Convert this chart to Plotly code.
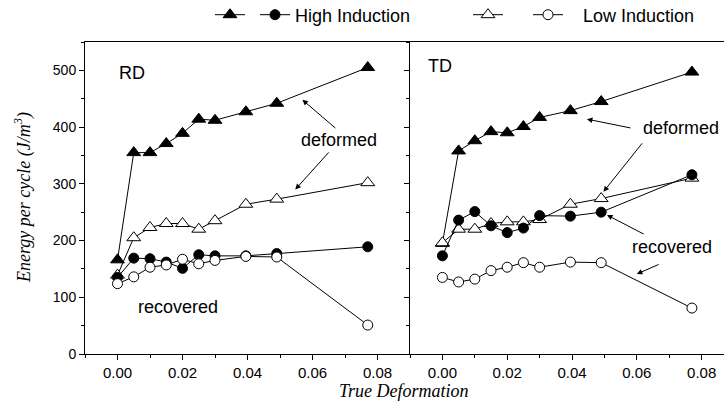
import plotly.graph_objects as go

# ---- data ----
strain = [0, 0.005, 0.01, 0.015, 0.02, 0.025, 0.03, 0.0395, 0.049, 0.077]

rd_high_def = [166, 355, 355, 371, 389, 414, 412, 427, 442, 505]
rd_high_rec = [135, 169, 168, 162, 151, 175, 173, 173, 177, 189]
rd_low_def = [139, 205, 223, 230, 230, 220, 235, 264, 273, 302]
rd_low_rec = [124, 136, 153, 157, 167, 159, 165, 172, 171, 51]

td_high_def = [195, 358, 376, 392, 390, 401, 417, 429, 445, 497]
td_high_rec = [173, 236, 251, 226, 214, 222, 244, 243, 250, 316]
td_low_def = [196, 220, 220, 230, 233, 233, 237, 264, 274, 310]
td_low_rec = [135, 127, 132, 147, 153, 161, 153, 162, 161, 81]

y_ticks = [0, 100, 200, 300, 400, 500]
x_ticks = [0.00, 0.02, 0.04, 0.06, 0.08]

FONT = "Liberation Sans, Arial, sans-serif"
SERIF = "Liberation Serif, Times New Roman, serif"
NB = "\u00a0"

fig = go.Figure()

styles = {
    "hd": dict(symbol="triangle-up", color="black", size=12),
    "ld": dict(symbol="triangle-up", color="white", size=12),
    "hr": dict(symbol="circle", color="black", size=10),
    "lr": dict(symbol="circle", color="white", size=10),
}
legend_info = {
    "hd": ("", 1, 0),
    "hr": ("High Induction", 2, 168),
    "ld": ("", 3, 15),
    "lr": (NB * 3 + "Low Induction", 4, 0),
}

panels = [
    ("x", "y", {"hd": rd_high_def, "ld": rd_low_def, "hr": rd_high_rec, "lr": rd_low_rec}, True),
    ("x2", "y2", {"hd": td_high_def, "ld": td_low_def, "hr": td_high_rec, "lr": td_low_rec}, False),
]
for xa, ya, series, show in panels:
    for key in ["hd", "ld", "hr", "lr"]:
        st = styles[key]
        name, rank, lw = legend_info[key]
        kw = {}
        if lw:
            kw["legendwidth"] = lw
        fig.add_trace(go.Scatter(
            x=strain, y=series[key], xaxis=xa, yaxis=ya,
            mode="lines+markers", name=name, legendgroup=key, legendrank=rank,
            showlegend=show, cliponaxis=False,
            line=dict(color="black", width=1),
            marker=dict(symbol=st["symbol"], size=st["size"], color=st["color"],
                        line=dict(color="black", width=1)),
            **kw,
        ))

axis_common = dict(
    showgrid=False, zeroline=False, showline=True, linecolor="black", linewidth=1,
    ticks="outside", ticklen=5, tickwidth=1, tickcolor="black", automargin=False,
    tickfont=dict(family=FONT, size=15, color="black"),
)
xdom_l = [85 / 724, 410 / 724]
xdom_r = [410 / 724, 1.0]
ydom = [62 / 416, 374 / 416]

fig.update_layout(
    width=724, height=416,
    margin=dict(l=0, r=0, t=0, b=0, autoexpand=False),
    paper_bgcolor="white", plot_bgcolor="white",
    showlegend=True,
    legend=dict(orientation="h", x=210 / 724, xanchor="left", y=(416 - 15) / 416, yanchor="middle",
                font=dict(family=FONT, size=18, color="black"),
                bgcolor="rgba(0,0,0,0)", borderwidth=0, traceorder="normal"),
    xaxis=dict(domain=xdom_l, range=[-0.01, 0.09], anchor="y", mirror=True,
               tickvals=x_ticks, tickformat=".2f",
               minor=dict(dtick=0.01, tick0=0, ticks="outside", ticklen=3, tickcolor="black"),
               **axis_common),
    yaxis=dict(domain=ydom, range=[0, 550], anchor="x", mirror=False,
               tickvals=y_ticks,
               minor=dict(dtick=50, tick0=0, ticks="outside", ticklen=3, tickcolor="black"),
               **{**axis_common, "tickfont": dict(family=FONT, size=14, color="black")}),
    xaxis2=dict(domain=xdom_r, range=[-0.01, 0.0869], anchor="y2", mirror=True,
                tickvals=x_ticks, tickformat=".2f",
                minor=dict(dtick=0.01, tick0=0, ticks="outside", ticklen=3, tickcolor="black"),
                **axis_common),
    yaxis2=dict(domain=ydom, range=[0, 550], anchor="x2", mirror=False,
                tickvals=y_ticks, showticklabels=False,
                minor=dict(dtick=50, tick0=0, ticks="outside", ticklen=3, tickcolor="black"),
                **axis_common),
)

txt = dict(family=FONT, size=18, color="black")
labels = [
    ("x", "y", 0.0045, 496, "RD"),
    ("x", "y", 0.0682, 377, "deformed"),
    ("x", "y", 0.0187, 83, "recovered"),
    ("x2", "y2", -0.0008, 508, "TD"),
    ("x2", "y2", 0.0736, 399, "deformed"),
    ("x2", "y2", 0.0709, 189, "recovered"),
]
for xr, yr, x, y, t in labels:
    fig.add_annotation(xref=xr, yref=yr, x=x, y=y, text=t, showarrow=False, font=txt,
                       xanchor="center", yanchor="middle")

arrows = [
    ("x", "y", 0.0675, 396, 0.0569, 448),
    ("x", "y", 0.0654, 358, 0.0547, 290),
    ("x2", "y2", 0.0585, 398, 0.0446, 414),
    ("x2", "y2", 0.0620, 374, 0.0497, 286),
    ("x2", "y2", 0.0626, 210, 0.0508, 245),
    ("x2", "y2", 0.0672, 159, 0.0600, 141),
]
for xr, yr, tx, ty, hx, hy in arrows:
    fig.add_annotation(xref=xr, yref=yr, axref=xr, ayref=yr, x=hx, y=hy, ax=tx, ay=ty,
                       text="", showarrow=True, arrowhead=2, arrowsize=1.1,
                       arrowwidth=1, arrowcolor="black")

fig.add_annotation(xref="paper", yref="paper", x=404 / 724, y=(416 - 391) / 416,
                   xanchor="center", yanchor="middle",
                   text="True Deformation", showarrow=False,
                   font=dict(family=SERIF, size=18, color="black", style="italic"))
fig.add_annotation(xref="paper", yref="paper", x=23 / 724, y=(416 - 198) / 416,
                   xanchor="center", yanchor="middle",
                   text="Energy per cycle (J/m<sup>3</sup>)", showarrow=False, textangle=-90,
                   font=dict(family=SERIF, size=18, color="black", style="italic"))

fig.write_html("out.html")
